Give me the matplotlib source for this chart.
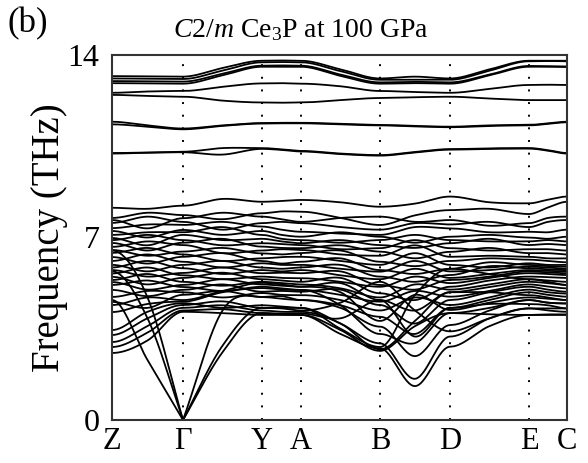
import numpy as np
import matplotlib
matplotlib.use("Agg")
import matplotlib.pyplot as plt

plt.rcParams['font.family'] = ['Liberation Serif', 'DejaVu Serif']
plt.rcParams['mathtext.fontset'] = 'custom'
plt.rcParams['mathtext.rm'] = 'Liberation Serif'
plt.rcParams['mathtext.it'] = 'Liberation Serif:italic'

# high-symmetry path (relative path lengths)
hs_labels = ['Z', 'Γ', 'Y', 'A', 'B', 'D', 'E', 'C']
hs_dist = [0, 71, 150, 189, 268, 338, 417, 455]

# band frequencies (THz) at: Z, mid, Γ, mid, Y, mid, A, mid, B, mid, D, mid, E, mid, C
upper_bands = [
    [13.19, 13.18, 13.17, 13.50, 13.78, 13.79, 13.78, 13.45, 13.10, 13.17, 13.10, 13.45, 13.78, 13.78, 13.78],
    [13.10, 13.09, 13.08, 13.40, 13.72, 13.73, 13.72, 13.38, 13.05, 13.05, 13.05, 13.40, 13.76, 13.77, 13.76],
    [13.00, 12.99, 12.98, 13.28, 13.59, 13.60, 13.59, 13.25, 12.95, 12.97, 12.95, 13.25, 13.58, 13.57, 13.56],
    [12.92, 12.91, 12.90, 13.22, 13.55, 13.55, 13.55, 13.20, 12.90, 12.92, 12.90, 13.22, 13.55, 13.55, 13.54],
    [12.55, 12.60, 12.62, 12.78, 12.91, 12.92, 12.90, 12.80, 12.62, 12.58, 12.55, 12.70, 12.85, 12.86, 12.85],
    [12.47, 12.43, 12.40, 12.25, 12.18, 12.17, 12.18, 12.27, 12.35, 12.38, 12.40, 12.33, 12.27, 12.27, 12.27],
    [11.44, 11.30, 11.18, 11.30, 11.39, 11.40, 11.40, 11.36, 11.32, 11.28, 11.25, 11.30, 11.32, 11.38, 11.44],
    [11.34, 11.25, 11.15, 11.28, 11.37, 11.38, 11.38, 11.34, 11.30, 11.26, 11.23, 11.28, 11.30, 11.36, 11.42],
    [10.24, 10.26, 10.29, 10.43, 10.43, 10.38, 10.32, 10.22, 10.16, 10.28, 10.39, 10.42, 10.43, 10.35, 10.24],
    [10.22, 10.25, 10.27, 10.18, 10.40, 10.36, 10.30, 10.20, 10.14, 10.26, 10.37, 10.40, 10.41, 10.33, 10.22],
]

acoustic_bands = [
    [4.60, 2.30, 0.00, 2.60, 4.10, 4.05, 4.03, 3.30, 2.75, 1.30, 2.81, 3.60, 4.03, 4.03, 4.03],
    [5.70, 3.90, 0.00, 2.85, 4.30, 4.30, 4.30, 3.70, 2.94, 1.58, 3.20, 3.90, 4.28, 4.28, 4.28],
    [6.50, 4.70, 0.00, 4.20, 4.72, 4.65, 4.60, 4.30, 3.58, 2.45, 3.64, 4.20, 4.60, 4.50, 4.47],
]

optical_bands = [
    [8.14, 8.10, 8.22, 8.48, 8.37, 8.40, 8.44, 8.35, 8.18, 8.30, 8.57, 8.35, 8.31, 8.45, 8.57],
    [7.75, 7.95, 7.86, 7.70, 7.93, 8.00, 7.99, 7.75, 7.48, 7.85, 8.05, 8.10, 7.90, 8.15, 8.37],
    [7.67, 7.35, 7.74, 7.95, 7.80, 7.70, 7.60, 7.75, 7.80, 7.60, 7.67, 7.45, 7.55, 7.75, 7.80],
    [7.56, 7.80, 7.60, 7.30, 7.55, 7.60, 7.55, 7.40, 7.30, 7.55, 7.50, 7.60, 7.40, 7.60, 7.67],
    [7.36, 7.50, 7.48, 7.60, 7.42, 7.30, 7.22, 7.15, 7.10, 7.40, 7.35, 7.20, 7.22, 7.20, 7.30],
    [7.25, 7.00, 7.29, 7.10, 7.25, 7.10, 7.03, 7.20, 7.03, 6.80, 7.03, 7.10, 7.00, 6.95, 7.03],
    [7.10, 7.20, 7.20, 7.40, 7.10, 6.95, 6.90, 6.80, 6.90, 7.10, 6.90, 6.85, 6.85, 6.90, 6.85],
    [6.98, 6.70, 7.10, 6.90, 6.95, 6.85, 6.78, 6.90, 6.71, 6.60, 6.78, 6.95, 6.71, 6.75, 6.71],
    [6.90, 7.10, 6.90, 6.70, 6.78, 6.75, 6.71, 6.55, 6.59, 6.90, 6.59, 6.50, 6.55, 6.55, 6.50],
    [6.79, 6.50, 6.80, 6.95, 6.65, 6.60, 6.59, 6.70, 6.46, 6.20, 6.45, 6.60, 6.40, 6.40, 6.35],
    [6.64, 6.85, 6.71, 6.40, 6.50, 6.55, 6.52, 6.35, 6.30, 6.70, 6.26, 6.30, 6.26, 6.20, 6.20],
    [6.52, 6.30, 6.46, 6.60, 6.39, 6.35, 6.40, 6.50, 6.07, 5.90, 6.10, 6.20, 6.15, 6.10, 6.05],
    [6.41, 6.60, 6.35, 6.10, 6.20, 6.25, 6.26, 6.10, 5.95, 6.40, 5.95, 5.85, 6.01, 5.95, 5.95],
    [6.25, 6.00, 6.26, 6.40, 6.10, 6.00, 6.07, 6.20, 5.75, 5.60, 5.80, 6.05, 5.95, 5.90, 5.88],
    [6.10, 6.35, 6.07, 5.85, 6.01, 5.95, 5.95, 5.80, 5.69, 6.10, 5.70, 5.75, 5.88, 5.85, 5.80],
    [5.95, 5.70, 5.95, 6.10, 5.85, 5.80, 5.85, 5.95, 5.50, 5.30, 5.56, 5.90, 5.82, 5.78, 5.75],
    [5.85, 6.10, 5.82, 5.60, 5.75, 5.70, 5.75, 5.55, 5.40, 5.80, 5.45, 5.60, 5.75, 5.72, 5.70],
    [5.75, 5.50, 5.64, 5.85, 5.63, 5.65, 5.63, 5.70, 5.18, 5.00, 5.37, 5.50, 5.70, 5.66, 5.63],
    [5.62, 5.85, 5.55, 5.40, 5.50, 5.45, 5.44, 5.30, 5.11, 5.50, 5.25, 5.45, 5.63, 5.60, 5.56],
    [5.49, 5.20, 5.45, 5.65, 5.40, 5.35, 5.30, 5.45, 4.86, 4.60, 5.11, 5.35, 5.50, 5.48, 5.45],
    [5.37, 5.60, 5.30, 5.15, 5.30, 5.25, 5.20, 5.05, 4.70, 5.20, 5.00, 5.20, 5.40, 5.35, 5.30],
    [5.29, 5.00, 5.18, 5.40, 5.20, 5.15, 5.11, 5.25, 4.60, 4.20, 4.90, 5.10, 5.30, 5.25, 5.18],
    [5.18, 5.35, 5.10, 4.95, 5.11, 5.05, 4.99, 4.80, 4.54, 4.95, 4.73, 4.95, 5.20, 5.12, 5.05],
    [4.99, 4.75, 4.99, 5.20, 4.92, 4.95, 4.92, 5.00, 4.41, 3.70, 4.60, 4.90, 5.11, 5.00, 4.92],
    [4.72, 4.95, 4.90, 4.70, 4.87, 4.80, 4.79, 4.60, 4.20, 4.70, 4.41, 4.70, 5.00, 4.90, 4.85],
    [4.53, 4.30, 4.80, 4.95, 4.72, 4.75, 4.60, 4.40, 3.96, 3.30, 4.30, 4.60, 4.90, 4.80, 4.73],
    [4.41, 4.70, 4.60, 4.95, 5.26, 5.20, 5.11, 4.90, 3.80, 4.80, 4.22, 4.50, 4.70, 4.65, 4.60],
    [4.14, 4.45, 4.54, 4.90, 5.06, 5.00, 4.99, 4.40, 3.30, 2.95, 4.10, 4.30, 4.60, 4.50, 4.47],
    [3.45, 4.15, 4.48, 4.30, 4.40, 4.35, 4.30, 3.50, 2.80, 4.80, 5.80, 5.60, 5.40, 5.30, 5.18],
    [3.26, 3.90, 4.41, 4.55, 4.30, 4.28, 4.20, 4.50, 5.30, 4.20, 3.40, 3.90, 4.28, 4.20, 4.15],
    [2.99, 3.60, 4.30, 4.40, 4.20, 4.15, 4.15, 3.70, 2.71, 3.80, 4.90, 4.90, 4.79, 4.70, 4.60],
    [2.80, 3.35, 4.20, 4.25, 4.10, 4.08, 4.09, 3.90, 4.60, 3.20, 4.30, 4.45, 4.45, 4.40, 4.28],
    [2.57, 3.05, 4.15, 4.10, 4.03, 4.03, 4.03, 3.45, 2.65, 3.60, 4.10, 4.05, 4.03, 4.05, 4.05],
]

y_ticks = [0, 7, 14]
title = r"$\mathit{C}$2/$\mathit{m}$ Ce$_3$P at 100 GPa"


def node_positions():
    xs = []
    for i in range(len(hs_dist) - 1):
        xs.append(hs_dist[i])
        xs.append(0.5 * (hs_dist[i] + hs_dist[i + 1]))
    xs.append(hs_dist[-1])
    return np.array(xs, dtype=float)


def smooth_band(xn, vals, npts=30):
    v = np.asarray(vals, dtype=float)
    n = len(v)
    # slopes: zero at high-symmetry points, central differences at midpoints
    left_slope = np.zeros(n)
    right_slope = np.zeros(n)
    for i in range(n):
        if i % 2 == 1:
            s = (v[i + 1] - v[i - 1]) / (xn[i + 1] - xn[i - 1])
            left_slope[i] = right_slope[i] = s
        elif v[i] < 0.05:  # acoustic branch at Γ: linear departure
            if i > 0:
                left_slope[i] = (v[i] - v[i - 1]) / (xn[i] - xn[i - 1])
            if i < n - 1:
                right_slope[i] = (v[i + 1] - v[i]) / (xn[i + 1] - xn[i])
    X, Y = [], []
    for i in range(n - 1):
        x0, x1 = xn[i], xn[i + 1]
        h = x1 - x0
        t = np.linspace(0, 1, npts)
        h00 = 2 * t**3 - 3 * t**2 + 1
        h10 = t**3 - 2 * t**2 + t
        h01 = -2 * t**3 + 3 * t**2
        h11 = t**3 - t**2
        y = h00 * v[i] + h10 * h * right_slope[i] + h01 * v[i + 1] + h11 * h * left_slope[i + 1]
        X.append(x0 + t * h)
        Y.append(y)
    return np.concatenate(X), np.concatenate(Y)


fig = plt.figure(figsize=(5.88, 4.63), dpi=100)
ax = fig.add_axes([0.1905, 0.0929, 0.7738, 0.7883])

xn = node_positions()
for band in upper_bands + acoustic_bands + optical_bands:
    bx, by = smooth_band(xn, band)
    ax.plot(bx, by, color='black', lw=1.3, solid_capstyle='round')

for d in hs_dist[1:-1]:
    ax.axvline(d, color='black', lw=1.4, linestyle=(0, (1, 5.5)), zorder=0)

ax.set_xlim(hs_dist[0], hs_dist[-1])
ax.set_ylim(0, 14)
ax.set_xticks(hs_dist)
ax.set_xticklabels(hs_labels, fontsize=22)
ax.set_yticks(y_ticks)
ax.set_yticklabels([str(t) for t in y_ticks], fontsize=23)
ax.tick_params(axis='x', length=0, pad=5)
ax.tick_params(axis='y', length=0, pad=9)
for s in ax.spines.values():
    s.set_linewidth(1.5)
    s.set_color('#333333')
ax.set_ylabel('Frequency (THz)', fontsize=28, labelpad=0)
fig.text(0.512, 0.962, title, fontsize=20, ha='center', va='top')
fig.text(0.012, 0.985, '(b)', fontsize=25, va='top', ha='left')

fig.savefig('out.png', dpi=100)
